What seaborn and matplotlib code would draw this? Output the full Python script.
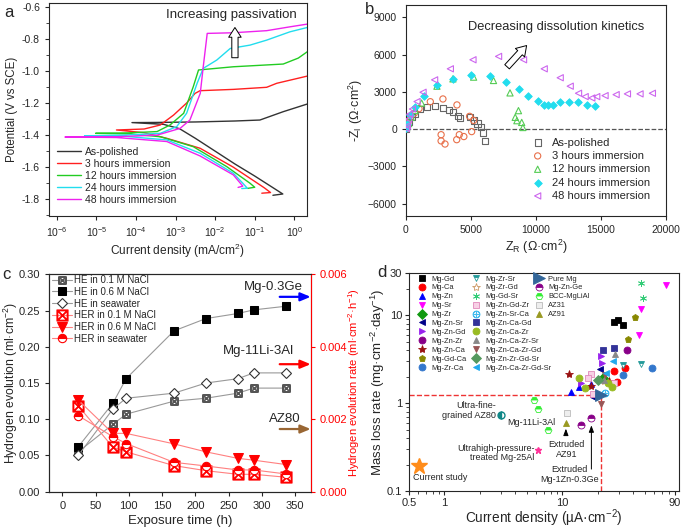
import numpy as np
import matplotlib
matplotlib.use('Agg')
import matplotlib.pyplot as plt
import seaborn as sns
from matplotlib.ticker import MultipleLocator, FixedLocator, FixedFormatter, NullFormatter, NullLocator, LogLocator, LogFormatterSciNotation
from matplotlib.legend import Legend

sns.set_style('ticks')
plt.rcParams['font.family'] = ['Liberation Sans', 'DejaVu Sans']
plt.rcParams['mathtext.fontset'] = 'custom'
plt.rcParams['mathtext.rm'] = 'Liberation Sans'
plt.rcParams['mathtext.it'] = 'Liberation Sans:italic'
plt.rcParams['mathtext.bf'] = 'Liberation Sans:bold'
plt.rcParams['axes.linewidth'] = 0.8
plt.rcParams['xtick.major.width'] = 0.8
plt.rcParams['ytick.major.width'] = 0.8

# ---- panel a: polarization curves (current density mA/cm2, potential V vs SCE)
pol_labels = ['As-polished', '3 hours immersion', '12 hours immersion', '24 hours immersion', '48 hours immersion']
pol_colors = ['#333333', '#ff2020', '#22cc22', '#22ddee', '#ee22ee']
i_polished = [0.288, 0.513, 0.251, 0.1, 0.0316, 0.01, 0.00316, 0.00126, 5.0e-4, 7.9e-5, 3.2e-4, 3.2e-3, 0.0316, 0.135, 0.525, 2.14]
e_polished = [-1.775, -1.767, -1.718, -1.655, -1.58, -1.50, -1.42, -1.36, -1.333, -1.322, -1.321, -1.318, -1.312, -1.306, -1.254, -1.206]
i_3h = [0.151, 0.251, 0.178, 0.135, 0.0288, 0.00417, 6.0e-4, 1.6e-4, 3.2e-5, 1.6e-4, 4.1e-4, 8.9e-4, 1.9e-3, 3.1e-3, 4.17e-3, 0.0288, 0.2, 0.36, 2.14]
e_3h = [-1.762, -1.758, -1.73, -1.71, -1.60, -1.482, -1.42, -1.385, -1.368, -1.362, -1.337, -1.275, -1.20, -1.14, -1.123, -1.115, -1.102, -1.077, -1.032]
i_12h = [0.066, 0.1, 0.076, 0.0195, 0.0028, 4.1e-4, 6.3e-5, 9.5e-6, 6.3e-5, 3.4e-4, 7.2e-4, 1.6e-3, 2.8e-3, 3.8e-3, 0.0288, 0.525, 1.26, 2.14]
e_12h = [-1.732, -1.725, -1.70, -1.596, -1.472, -1.41, -1.392, -1.389, -1.386, -1.378, -1.337, -1.264, -1.098, -0.994, -0.974, -0.957, -0.92, -0.88]
i_24h = [0.047, 0.065, 0.05, 0.0288, 0.00417, 6.0e-4, 5.0e-5, 5.0e-6, 5.0e-5, 4.1e-4, 1.07e-3, 1.9e-3, 3.5e-3, 5.0e-3, 0.011, 0.024, 0.076, 0.2, 0.78, 2.14]
e_24h = [-1.733, -1.731, -1.70, -1.638, -1.513, -1.43, -1.407, -1.405, -1.40, -1.389, -1.347, -1.264, -1.077, -0.984, -0.932, -0.86, -0.839, -0.808, -0.756, -0.729]
i_48h = [0.038, 0.05, 0.0288, 0.00417, 6.0e-4, 3.2e-5, 1.6e-6, 3.2e-5, 3.4e-4, 1.3e-3, 2.3e-3, 4.2e-3, 5.0e-3, 6.3e-3, 0.0288, 0.2, 0.78, 2.14]
e_48h = [-1.726, -1.718, -1.648, -1.53, -1.44, -1.415, -1.412, -1.41, -1.40, -1.358, -1.306, -1.14, -0.974, -0.766, -0.762, -0.749, -0.725, -0.708]
a_xticks = [1e-6, 1e-5, 1e-4, 1e-3, 1e-2, 1e-1, 1e0]

# ---- panel b: Nyquist data (ohm cm2)
zr_polished = [30, 100, 250, 450, 715, 1100, 1610, 2250, 2870, 3330, 3610, 4000, 4170, 4940, 5250, 5500, 5750, 5900, 6050]
zi_polished = [30, 250, 600, 950, 1220, 1620, 1780, 1860, 1700, 1540, 1380, 1050, 890, 970, 700, 450, 150, -270, -950]
zr_3h = [40, 150, 350, 650, 1000, 1870, 2840, 3920, 4890, 5200, 5050, 4450, 4100, 3900, 3000, 2700, 2700]
zi_3h = [150, 500, 900, 1300, 1650, 2210, 2430, 1950, 1030, 700, -200, -600, -450, -850, -1200, -950, -450]
zr_12h = [50, 200, 400, 700, 1200, 2380, 3610, 5200, 6730, 8000, 8650, 8400, 8530, 8900, 8990]
zi_12h = [100, 450, 950, 1500, 2100, 3460, 4050, 4190, 3920, 2920, 1490, 950, 680, 540, 130]
zr_24h = [30, 100, 300, 700, 1400, 2380, 3610, 5020, 6480, 7710, 8660, 9370, 10150, 10580, 10910, 11340, 11860, 12500, 13210, 13900, 14550]
zi_24h = [100, 450, 1100, 1800, 2700, 3570, 4050, 4380, 4270, 3780, 3240, 2700, 2250, 1950, 1950, 1950, 2160, 2220, 2160, 1970, 1840]
zr_48h = [30, 100, 200, 280, 490, 850, 1310, 2200, 3410, 5150, 7120, 9040, 10630, 11860, 12630, 13270, 13780, 14290, 14670, 15310, 16160, 17030, 18000, 18950]
zi_48h = [50, 250, 800, 1200, 1620, 2220, 2970, 3970, 4860, 5590, 5860, 5590, 4860, 4140, 3460, 2890, 2620, 2510, 2620, 2700, 2780, 2840, 2840, 2890]

# ---- panel c: hydrogen evolution
hours = [24, 76, 96, 168, 216, 264, 288, 336]
he_01 = [0.055, 0.093, 0.107, 0.125, 0.129, 0.136, 0.143, 0.143]
he_06 = [0.062, 0.122, 0.156, 0.222, 0.239, 0.246, 0.251, 0.256]
he_sea = [0.050, 0.114, 0.129, 0.136, 0.150, 0.156, 0.164, 0.164]
her_01 = [0.00237, 0.00123, 0.00110, 0.00072, 0.00058, 0.00048, 0.00048, 0.00040]
her_06 = [0.00253, 0.00161, 0.00161, 0.00132, 0.00110, 0.00092, 0.00087, 0.00075]
her_sea = [0.00210, 0.00152, 0.00133, 0.00081, 0.00071, 0.00060, 0.00060, 0.00049]
ref_alloys = ['Mg-0.3Ge', 'Mg-11Li-3Al', 'AZ80']
ref_her = [0.00538, 0.00352, 0.00173]

# ---- panel d: mass loss rate vs current density
d_names = ['Mg-Gd', 'Mg-Ca', 'Mg-Zn', 'Mg-Sr', 'Mg-Zr', 'Mg-Zn-Sr', 'Mg-Zn-Gd', 'Mg-Zn-Zr', 'Mg-Zn-Ca', 'Mg-Gd-Ca', 'Mg-Zr-Ca',
           'Mg-Zr-Sr', 'Mg-Zr-Gd', 'Mg-Gd-Sr', 'Mg-Zn-Gd-Zr', 'Mg-Zn-Sr-Ca', 'Mg-Zn-Ca-Gd', 'Mg-Zn-Ca-Zr', 'Mg-Zn-Ca-Zr-Sr',
           'Mg-Zn-Ca-Zr-Gd', 'Mg-Zn-Zr-Gd-Sr', 'Mg-Zn-Ca-Zr-Gd-Sr',
           'Pure Mg', 'Mg-Zn-Ge', 'BCC-MgLiAl', 'AZ31', 'AZ91']
d_x = [[27.5, 29.3, 32.8], [27.1, 34.1, 28.8], [11.8, 13.7, 17.4], [75.5, 46.3, 44.8], [22.0], [20.7, 18.0],
       [21.2, 21.6, 14.3], [35.6], [11.4, 17.4, 24.9], [41.2, 36.2], [57.5, 32.9],
       [32.4, 46.3], [22.5], [46.3, 47.9], [17.4, 16.6, 18.0, 27.5], [23.0], [22.2, 27.5], [13.7, 15.6, 24.5, 26.1],
       [28.0, 22.5], [21.2, 23.0], [20.2], [26.6, 23.4],
       [21.2], [17.6, 14.3], [5.75, 6.25, 7.6], [11.0], [10.7]]
d_y = [[8.3, 8.7, 7.8], [2.31, 2.51, 1.74], [1.34, 1.52, 1.66], [21.8, 11.8, 6.0], [1.95], [2.41, 1.17],
       [3.41, 2.87, 1.70], [3.96], [2.15, 1.56, 1.80], [9.5, 5.3], [2.52, 2.11],
       [2.70, 2.79], [1.80], [23.3, 15.7], [2.15, 1.94, 1.27, 1.70], [1.31], [3.96, 4.18], [1.94, 1.49, 1.70, 1.52],
       [3.63, 1.85], [0.98, 2.11], [1.85], [2.99, 2.21],
       [1.23], [0.68, 0.57], [1.08, 0.86, 0.49], [0.77], [0.60]]
extra_names = ['Ultra-fine-grained AZ80', 'Ultrahigh-pressure-treated Mg-25Al', 'Current study']
extra_x = [3.0, 6.25, 0.605]
extra_y = [0.73, 0.29, 0.19]
target_x, target_y = 21.2, 1.25

d_styles = [
    dict(marker='s', color='black'), dict(marker='o', color='red'), dict(marker='^', color='blue'),
    dict(marker='v', color='magenta'), dict(marker='D', color='#119911'), dict(marker='<', color='#000088'),
    dict(marker='>', color='#9922ee'), dict(marker='o', color='#880088'), dict(marker='*', color='#991111', ms=6),
    dict(marker='p', color='#888800'), dict(marker='o', color='#3377cc'),
    dict(marker='v', color='#229999', fillstyle='top', mfc='#229999', mfcalt='white'),
    dict(marker='*', color='#cc9966', mfc='none', ms=6), dict(marker=(6, 2, 0), color='#33cc77'),
    dict(marker='s', color='#e088bb', mfc='#f7d0e5'), dict(marker='$\\oplus$', color='#44bbee'),
    dict(marker='s', color='#333399'), dict(marker='o', color='#99bb22'), dict(marker='^', color='#888888'),
    dict(marker='v', color='#995555'), dict(marker='D', color='#55995f'), dict(marker='<', color='#22aaee'),
    dict(marker='>', color='#336699', ms=8), dict(marker='o', color='#880088', fillstyle='top', mfcalt='white'),
    dict(marker='H', color='#33ee33', fillstyle='top', mfcalt='white'),
    dict(marker='s', color='#bbbbbb', mfc='#eeeeee'), dict(marker='^', color='#999922'),
]

fig = plt.figure(figsize=(6.85, 5.3), dpi=100)

# ================= a =================
axa = fig.add_axes([0.0715, 0.5925, 0.3766, 0.402])
pol_i = [i_polished, i_3h, i_12h, i_24h, i_48h]
pol_e = [e_polished, e_3h, e_12h, e_24h, e_48h]
for xs, ys, lab, col in zip(pol_i, pol_e, pol_labels, pol_colors):
    sns.lineplot(x=xs, y=ys, sort=False, estimator=None, color=col, lw=1.0, label=lab, ax=axa)
axa.set_xscale('log')
axa.set_xlim(10 ** -6.2, 10 ** 0.32)
axa.set_ylim(-1.904, -0.576)
axa.yaxis.set_major_locator(MultipleLocator(0.2))
axa.yaxis.set_minor_locator(MultipleLocator(0.1))
axa.xaxis.set_major_locator(FixedLocator(a_xticks))
axa.xaxis.set_major_formatter(LogFormatterSciNotation())
axa.xaxis.set_minor_locator(NullLocator())
axa.yaxis.set_major_formatter(matplotlib.ticker.FuncFormatter(lambda v, p: f'{v:.1f}'))
axa.tick_params(labelsize=7.5, length=3)
axa.tick_params(which='minor', length=2)
axa.set_xlabel('Current density (mA/cm$^{2}$)', fontsize=8.6, labelpad=2)
axa.set_ylabel('Potential (V vs SCE)', fontsize=8.3, labelpad=3)
axa.text(0.0257, -0.652, 'Increasing passivation', fontsize=9.5, ha='center', va='center')
axa.annotate('', xy=(0.0316, -0.712), xytext=(0.0316, -0.935),
             arrowprops=dict(arrowstyle='simple,head_width=0.9,head_length=0.7,tail_width=0.45',
                             fc='white', ec='black', lw=0.7))
axa.legend(loc='upper left', bbox_to_anchor=(0.031, 0.325), frameon=False, fontsize=7.5,
           handlelength=2.3, handletextpad=0.35, labelspacing=0.2, borderpad=0, borderaxespad=0)

# ================= b =================
axb = fig.add_axes([0.5927, 0.5925, 0.3796, 0.398])
nyq_r = [zr_polished, zr_3h, zr_12h, zr_24h, zr_48h]
nyq_i = [zi_polished, zi_3h, zi_12h, zi_24h, zi_48h]
nyq_marker = ['s', 'o', '^', 'D', '<']
nyq_color = ['#666666', '#e8704a', '#55cc55', '#22ddee', '#cc66ee']
axb.axhline(0, color='#555555', ls='--', lw=0.9, zorder=1)
for xs, ys, lab, m, col in zip(nyq_r, nyq_i, pol_labels, nyq_marker, nyq_color):
    if m == 'D':
        sns.scatterplot(x=xs, y=ys, marker=m, s=15, color=col, edgecolor=col, linewidth=0.6,
                        label=lab, ax=axb, zorder=3)
    else:
        sns.scatterplot(x=xs, y=ys, marker=m, s=20, facecolor='none', edgecolor=col, linewidth=0.8,
                        label=lab, ax=axb, zorder=3)
axb.set_xlim(0, 20000)
axb.set_ylim(-7000, 10000)
axb.xaxis.set_major_locator(MultipleLocator(5000))
axb.yaxis.set_major_locator(MultipleLocator(3000))
axb.tick_params(labelsize=7.5, length=3)
axb.set_xlabel('Z$_\\mathrm{R}$ (Ω·cm$^{2}$)', fontsize=9, labelpad=2)
axb.set_ylabel('-Z$_\\mathrm{I}$ (Ω·cm$^{2}$)', fontsize=9, labelpad=2)
axb.text(11550, 8250, 'Decreasing dissolution kinetics', fontsize=9.3, ha='center', va='center')
axb.annotate('', xy=(9420, 6900), xytext=(7630, 4860),
             arrowprops=dict(arrowstyle='simple,head_width=0.9,head_length=0.7,tail_width=0.45',
                             fc='white', ec='black', lw=0.7))
axb.legend(loc='upper left', bbox_to_anchor=(0.485, 0.372), frameon=False, fontsize=8,
           handlelength=1.0, handletextpad=0.8, labelspacing=0.3, borderpad=0, borderaxespad=0)

# ================= c =================
axc = fig.add_axes([0.0715, 0.0723, 0.382, 0.410])
axc2 = axc.twinx()
he_series = [he_01, he_06, he_sea]
he_labels = ['HE in 0.1 M NaCl', 'HE in 0.6 M NaCl', 'HE in seawater']
he_kw = [dict(marker='$\\boxtimes$', ms=5.5, mfc='#555555', mec='#555555'),
         dict(marker='s', ms=5.5, mfc='black', mec='black'),
         dict(marker='D', ms=5.5, mfc='white', mec='#333333', mew=0.8)]
for ys, lab, kw in zip(he_series, he_labels, he_kw):
    sns.lineplot(x=hours, y=ys, color='#999999', lw=0.8, label=lab, ax=axc, **kw)
her_series = [her_01, her_06, her_sea]
her_labels = ['HER in 0.1 M NaCl', 'HER in 0.6 M NaCl', 'HER in seawater']
her_kw = [dict(marker='$\\boxtimes$', ms=8, mfc='red', mec='red'),
          dict(marker='v', ms=6.5, mfc='red', mec='red'),
          dict(marker='o', ms=6, mfc='red', mec='red', fillstyle='top', mfcalt='white', mew=0.8)]
for ys, lab, kw in zip(her_series, her_labels, her_kw):
    sns.lineplot(x=hours, y=ys, color='#ff8080', lw=0.8, label=lab, ax=axc2, **kw)
axc.set_xlim(-20, 373.5)
axc.set_ylim(0, 0.30)
axc2.set_ylim(0, 0.006)
axc.xaxis.set_major_locator(MultipleLocator(50))
axc.yaxis.set_major_locator(MultipleLocator(0.05))
axc.yaxis.set_major_formatter(matplotlib.ticker.FuncFormatter(lambda v, p: f'{v:.2f}'))
axc2.yaxis.set_major_locator(MultipleLocator(0.002))
axc2.yaxis.set_major_formatter(matplotlib.ticker.FuncFormatter(lambda v, p: f'{v:.3f}'))
axc.tick_params(labelsize=8, length=3)
axc2.tick_params(labelsize=8, length=3, colors='red')
axc2.spines['right'].set_color('red')
axc.set_xlabel('Exposure time (h)', fontsize=9.5, labelpad=3)
axc.set_ylabel('Hydrogen evolution (ml·cm$^{-2}$)', fontsize=8.8)
axc.yaxis.set_label_coords(-0.112, 0.5)
axc2.set_ylabel('Hydrogen evolution rate (ml·cm$^{-2}$·h$^{-1}$)', fontsize=8.0, color='red')
axc2.yaxis.set_label_coords(1.136, 0.5)
ref_cols = ['blue', 'red', '#996633']
ref_text_x = [317, 295, 335]
ref_text_dy = [0.00028, 0.00036, 0.00028]
for name, yv, col, tx, dy in zip(ref_alloys, ref_her, ref_cols, ref_text_x, ref_text_dy):
    axc2.annotate('', xy=(373.5, yv), xytext=(327, yv),
                  arrowprops=dict(arrowstyle='-|>,head_width=0.25,head_length=0.6', color=col, lw=1.6,
                                  shrinkA=0, shrinkB=0))
    axc2.text(tx, yv + dy, name, fontsize=9.5, ha='center', va='center')
h1, l1 = axc.get_legend_handles_labels()
h2, l2 = axc2.get_legend_handles_labels()
if axc.get_legend():
    axc.get_legend().remove()
axc2.legend(h1 + h2, l1 + l2, loc='upper left', bbox_to_anchor=(0.012, 0.997), frameon=False, fontsize=7,
            handlelength=2.0, handletextpad=0.3, labelspacing=0.18, borderpad=0, borderaxespad=0)

# ================= d =================
axd = fig.add_axes([0.597, 0.0736, 0.394, 0.411])
handles = []
for name, xs, ys, st in zip(d_names, d_x, d_y, d_styles):
    kw = dict(ms=5, ls='none', mew=0.6)
    kw.update(st)
    ln, = axd.plot(xs, ys, label=name, zorder=3, **kw)
    handles.append(ln)
axd.plot(extra_x[0], extra_y[0], marker='o', color='#118888', fillstyle='left', mfcalt='white', ms=5, ls='none')
axd.plot(extra_x[1], extra_y[1], marker='*', color='#ff3399', ms=5, ls='none')
axd.plot(extra_x[2], extra_y[2], marker='*', color='#ff8c1a', ms=12, ls='none')
axd.plot([0.5, target_x], [target_y, target_y], color='#ee3333', ls='--', lw=1.0, zorder=2)
axd.plot([target_x, target_x], [0.1, target_y], color='#ee3333', ls='--', lw=1.0, zorder=2)
axd.set_xscale('log')
axd.set_yscale('log')
axd.set_xlim(0.5, 97)
axd.set_ylim(0.1, 30)
axd.xaxis.set_major_locator(FixedLocator([0.5, 1, 10, 90]))
axd.xaxis.set_major_formatter(FixedFormatter(['0.5', '1', '10', '90']))
axd.xaxis.set_minor_locator(LogLocator(base=10, subs=np.arange(2, 10), numticks=10))
axd.xaxis.set_minor_formatter(NullFormatter())
axd.yaxis.set_major_locator(FixedLocator([0.1, 1, 10, 30]))
axd.yaxis.set_major_formatter(FixedFormatter(['0.1', '1', '10', '30']))
axd.yaxis.set_minor_locator(LogLocator(base=10, subs=np.arange(2, 10), numticks=10))
axd.yaxis.set_minor_formatter(NullFormatter())
axd.tick_params(labelsize=8, length=3, pad=2)
axd.tick_params(which='minor', length=2)
axd.set_xlabel('Current density (µA·cm$^{-2}$)', fontsize=9.8)
axd.xaxis.set_label_coords(0.5, -0.075)
axd.set_ylabel('Mass loss rate (mg·cm$^{-2}$·day$^{-1}$)', fontsize=9.5)
axd.yaxis.set_label_coords(-0.08, 0.5)
leg_groups = [(0, 11, 0.035), (11, 22, 0.236), (22, 27, 0.468)]
for a0, a1, bx in leg_groups:
    hs = handles[a0:a1]
    lg = Legend(axd, hs, [h.get_label() for h in hs], loc='upper left', bbox_to_anchor=(bx, 0.99),
                frameon=False, fontsize=5.4, handlelength=1.0, handletextpad=0.7, labelspacing=0.22,
                borderpad=0, borderaxespad=0)
    axd.add_artist(lg)
fs = 6.5
axd.text(2.75, 0.83, 'Ultra-fine-\ngrained AZ80', fontsize=fs, ha='right', va='center', linespacing=1.1)
axd.text(5.5, 0.605, 'Mg-11Li-3Al', fontsize=fs, ha='center', va='center')
axd.text(5.8, 0.27, 'Ultrahigh-pressure-\ntreated Mg-25Al', fontsize=fs, ha='right', va='center', linespacing=1.1)
axd.text(0.925, 0.141, 'Current study', fontsize=fs, ha='center', va='center')
axd.text(10.9, 0.296, 'Extruded\nAZ91', fontsize=fs, ha='center', va='center', linespacing=1.1)
axd.text(11.4, 0.154, 'Extruded\nMg-1Zn-0.3Ge', fontsize=fs, ha='center', va='center', linespacing=1.1)
axd.annotate('', xy=(10.7, 0.55), xytext=(10.7, 0.40),
             arrowprops=dict(arrowstyle='-|>,head_width=0.15,head_length=0.4', color='black', lw=0.7))
axd.annotate('', xy=(17.6, 0.6), xytext=(17.6, 0.165),
             arrowprops=dict(arrowstyle='-|>,head_width=0.15,head_length=0.4', color='black', lw=0.7))

fig.text(0.006, 0.99, 'a', fontsize=12, va='top')
fig.text(0.533, 0.996, 'b', fontsize=12, va='top')
fig.text(0.004, 0.497, 'c', fontsize=12, va='top')
fig.text(0.551, 0.5, 'd', fontsize=12, va='top')

fig.savefig('out.png', dpi=100)
